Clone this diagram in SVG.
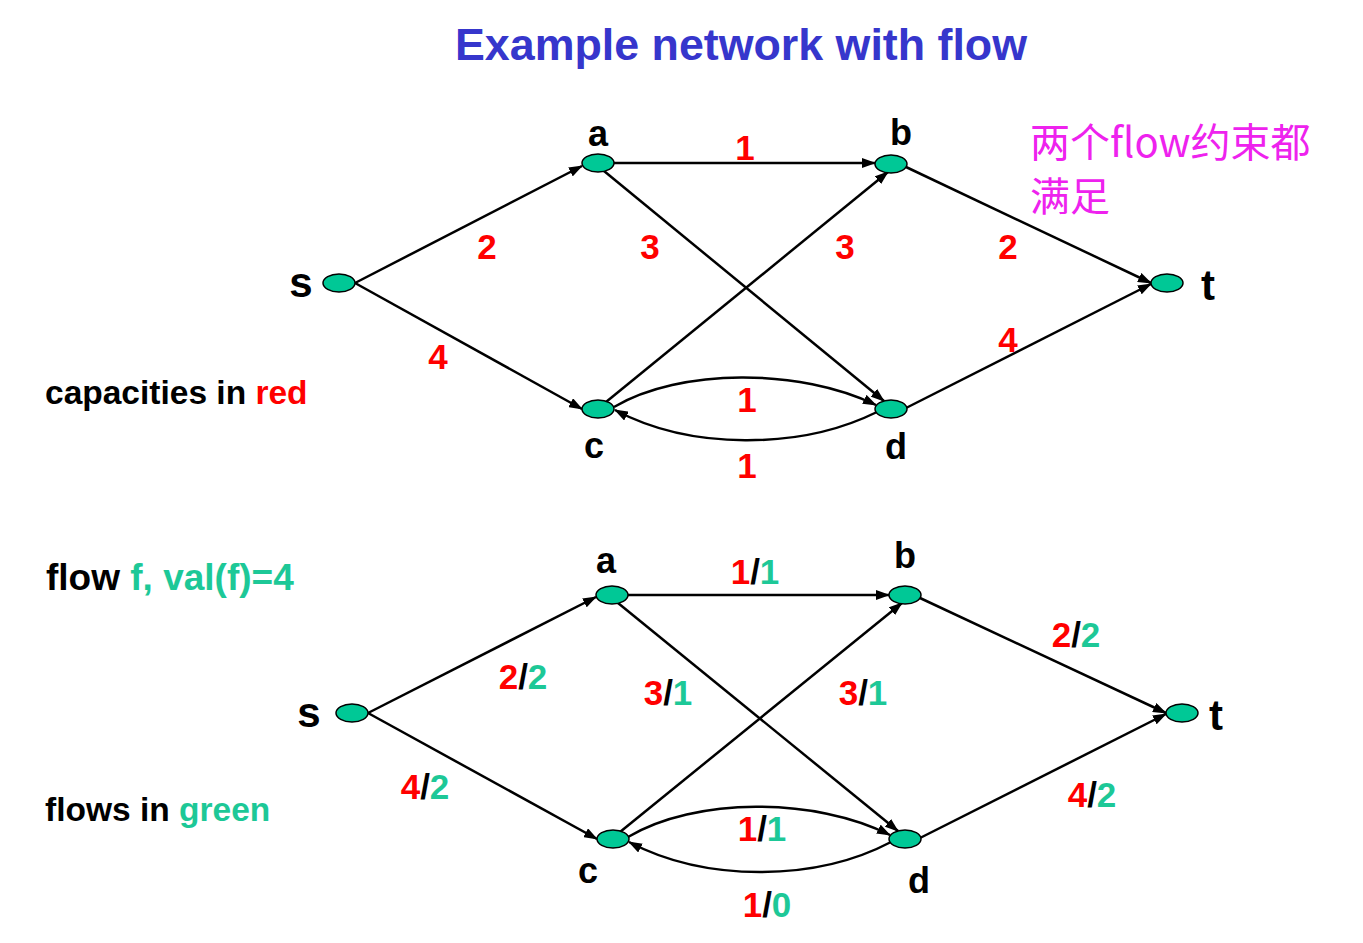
<svg xmlns="http://www.w3.org/2000/svg" width="1363" height="943" viewBox="0 0 1363 943">
<style>
.n{fill:#00C896;stroke:#000;stroke-width:1.5}
.e{fill:none;stroke:#000;stroke-width:2.5;marker-end:url(#ah)}
.t{font-family:"Liberation Sans",Arial,sans-serif;font-weight:bold}
.nl{font-size:36px;fill:#000;text-anchor:middle}
.st{font-size:42px;fill:#000;text-anchor:middle}
.el{font-size:35px;text-anchor:middle}
.r{fill:#FF0000}
.g{fill:#1DC897}
.k{fill:#000}
.cap{font-size:33.5px}
</style>
<defs>
<marker id="ah" viewBox="0 0 14 10" refX="13" refY="5" markerWidth="14" markerHeight="10" markerUnits="userSpaceOnUse" orient="auto">
<path d="M0,0 L14,5 L0,10 z" fill="#000"/>
</marker>
</defs>
<rect width="1363" height="943" fill="#fff"/>
<text class="t" x="455" y="60" font-size="44" fill="#3636CC" textLength="572" lengthAdjust="spacingAndGlyphs">Example network with flow</text>
<text x="1030" y="157" font-size="40" fill="#EE22EE" font-family="'Noto Sans CJK SC','Liberation Sans',sans-serif">两个flow约束都</text>
<text x="1030" y="211" font-size="40" fill="#EE22EE" font-family="'Noto Sans CJK SC','Liberation Sans',sans-serif">满足</text>
<text class="t cap" x="45" y="404"><tspan class="k">capacities in </tspan><tspan class="r">red</tspan></text>
<text class="t" x="46" y="590" font-size="37"><tspan class="k">flow </tspan><tspan class="g">f, val(f)=4</tspan></text>
<text class="t cap" x="45" y="821"><tspan class="k">flows in </tspan><tspan class="g">green</tspan></text>
<g id="edges">
<line class="e" x1="355" y1="283" x2="582" y2="166"/>
<line class="e" x1="355" y1="283" x2="582" y2="409"/>
<line class="e" x1="614" y1="163" x2="875" y2="163"/>
<line class="e" x1="604" y1="171" x2="884" y2="401"/>
<line class="e" x1="606" y1="402" x2="888" y2="172"/>
<line class="e" x1="906" y1="167" x2="1151" y2="283"/>
<line class="e" x1="906" y1="408" x2="1151" y2="284"/>
<path class="e" d="M614,407 C680,368 800,368 876,405"/>
<path class="e" d="M877,412 C800,450 690,450 615,410"/>
<line class="e" x1="368" y1="713" x2="596" y2="597"/>
<line class="e" x1="368" y1="713" x2="597" y2="839"/>
<line class="e" x1="628" y1="595" x2="889" y2="595"/>
<line class="e" x1="618" y1="603" x2="898" y2="831"/>
<line class="e" x1="620" y1="832" x2="902" y2="603"/>
<line class="e" x1="920" y1="598" x2="1166" y2="713"/>
<line class="e" x1="920" y1="838" x2="1166" y2="714"/>
<path class="e" d="M628,837 C695,797 815,797 890,835"/>
<path class="e" d="M891,842 C815,882 705,882 629,842"/>
</g>
<g id="s1"><ellipse class="n" cx="339" cy="283" rx="16" ry="9"/><text class="t st" x="301" y="297">s</text></g>
<g id="a1"><ellipse class="n" cx="598" cy="163" rx="16" ry="9"/><text class="t nl" x="598" y="146">a</text></g>
<g id="b1"><ellipse class="n" cx="891" cy="164" rx="16" ry="9"/><text class="t nl" x="901" y="145">b</text></g>
<g id="t1"><ellipse class="n" cx="1167" cy="283" rx="16" ry="9"/><text class="t st" x="1208" y="300">t</text></g>
<g id="c1"><ellipse class="n" cx="598" cy="409" rx="16" ry="9"/><text class="t nl" x="594" y="458">c</text></g>
<g id="d1"><ellipse class="n" cx="891" cy="409" rx="16" ry="9"/><text class="t nl" x="896" y="459">d</text></g>
<g id="s2"><ellipse class="n" cx="352" cy="713" rx="16" ry="9"/><text class="t st" x="309" y="727">s</text></g>
<g id="a2"><ellipse class="n" cx="612" cy="595" rx="16" ry="9"/><text class="t nl" x="606" y="573">a</text></g>
<g id="b2"><ellipse class="n" cx="905" cy="595" rx="16" ry="9"/><text class="t nl" x="905" y="568">b</text></g>
<g id="t2"><ellipse class="n" cx="1182" cy="713" rx="16" ry="9"/><text class="t st" x="1216" y="730">t</text></g>
<g id="c2"><ellipse class="n" cx="613" cy="839" rx="16" ry="9"/><text class="t nl" x="588" y="883">c</text></g>
<g id="d2"><ellipse class="n" cx="905" cy="839" rx="16" ry="9"/><text class="t nl" x="919" y="893">d</text></g>
<g id="labels1" class="t el r">
<text x="745" y="160">1</text>
<text x="487" y="259">2</text>
<text x="650" y="259">3</text>
<text x="845" y="259">3</text>
<text x="1008" y="259">2</text>
<text x="438" y="369">4</text>
<text x="1008" y="352">4</text>
<text x="747" y="412">1</text>
<text x="747" y="478">1</text>
</g>
<g id="labels2" class="t el">
<text x="755" y="584"><tspan class="r">1</tspan><tspan class="k">/</tspan><tspan class="g">1</tspan></text>
<text x="523" y="689"><tspan class="r">2</tspan><tspan class="k">/</tspan><tspan class="g">2</tspan></text>
<text x="668" y="705"><tspan class="r">3</tspan><tspan class="k">/</tspan><tspan class="g">1</tspan></text>
<text x="863" y="705"><tspan class="r">3</tspan><tspan class="k">/</tspan><tspan class="g">1</tspan></text>
<text x="1076" y="647"><tspan class="r">2</tspan><tspan class="k">/</tspan><tspan class="g">2</tspan></text>
<text x="425" y="799"><tspan class="r">4</tspan><tspan class="k">/</tspan><tspan class="g">2</tspan></text>
<text x="1092" y="807"><tspan class="r">4</tspan><tspan class="k">/</tspan><tspan class="g">2</tspan></text>
<text x="762" y="841"><tspan class="r">1</tspan><tspan class="k">/</tspan><tspan class="g">1</tspan></text>
<text x="767" y="917"><tspan class="r">1</tspan><tspan class="k">/</tspan><tspan class="g">0</tspan></text>
</g>
</svg>
